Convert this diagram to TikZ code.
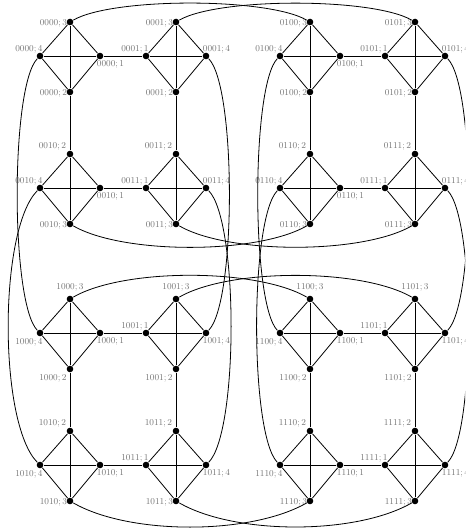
\documentclass[tikz,border=0pt]{standalone}
\usepackage{tikz}
\newcommand{\clique}[7]{%
  \foreach \no/\lpos/\dx/\dy in {#4/0/34, #5/0/-36, #6/-30/0, #7/30/0}{
    \node[dot] (#1-\no) at ({#2+\dx}, {#3+\dy}) {};
    \node[lbl, \lpos] (t#1-\no) at (#1-\no) {$#1;\no$};
  }
  \foreach \a/\b in {1/2, 1/3, 1/4, 2/3, 2/4, 3/4}{
    \draw (#1-\a) -- (#1-\b);
  }
}
\begin{document}
\begin{tikzpicture}[
  x=1pt, y=1pt, line width=0.8pt,
  dot/.style={circle, fill=black, inner sep=0pt, minimum size=6.6pt},
  lbl/.style={font=\small, text=black!55, inner sep=0pt},
  lw/.style={anchor=base east, xshift=-2.5pt, yshift=-3.5pt},
  lnw/.style={anchor=base east, xshift=3pt, yshift=4pt},
  lnt/.style={anchor=base east, xshift=-3.5pt, yshift=5pt},
  lne/.style={anchor=base west, xshift=-3.5pt, yshift=4pt},
  lse/.style={anchor=base west, xshift=-3.5pt, yshift=-11pt},
  lsw/.style={anchor=base east, xshift=3pt, yshift=-12pt},
  lsb/.style={anchor=base east, xshift=-3pt, yshift=-12pt},
  ln/.style={anchor=base, yshift=9pt}
]
  \useasboundingbox (0,0) rectangle (465,529);
  \clip (0,0) rectangle (465,529);

  \clique{0000}{70}{473}{3/lw}{2/lw}{4/lnw}{1/lse}
  \clique{0001}{176}{473}{3/lw}{2/lw}{1/lnw}{4/lne}
  \clique{0100}{310}{473}{3/lw}{2/lw}{4/lnw}{1/lse}
  \clique{0101}{415}{473}{3/lw}{2/lw}{1/lnw}{4/lne}

  \clique{0010}{70}{341}{2/lnt}{3/lw}{4/lnw}{1/lse}
  \clique{0011}{176}{341}{2/lnt}{3/lw}{1/lnw}{4/lne}
  \clique{0110}{310}{341}{2/lnt}{3/lw}{4/lnw}{1/lse}
  \clique{0111}{415}{341}{2/lnt}{3/lw}{1/lnw}{4/lne}

  \clique{1000}{70}{196}{3/ln}{2/lsb}{4/lsw}{1/lse}
  \clique{1001}{176}{196}{3/ln}{2/lsb}{1/lnw}{4/lse}
  \clique{1100}{310}{196}{3/ln}{2/lsb}{4/lsw}{1/lse}
  \clique{1101}{415}{196}{3/ln}{2/lsb}{1/lnw}{4/lse}

  \clique{1010}{70}{64}{2/lnt}{3/lw}{4/lsw}{1/lse}
  \clique{1011}{176}{64}{2/lnt}{3/lw}{1/lnw}{4/lse}
  \clique{1110}{310}{64}{2/lnt}{3/lw}{4/lsw}{1/lse}
  \clique{1111}{415}{64}{2/lnt}{3/lw}{1/lnw}{4/lse}

  \foreach \a/\b in {0000/0001, 0010/0011, 0100/0101, 0110/0111,
                     1000/1001, 1010/1011, 1100/1101, 1110/1111}{
    \draw (\a-1) -- (\b-1);
  }
  \foreach \a/\b in {0000/0010, 0001/0011, 0100/0110, 0101/0111,
                     1000/1010, 1001/1011, 1100/1110, 1101/1111}{
    \draw (\a-2) -- (\b-2);
  }

  \draw (0000-3) to[out=30, in=150, looseness=0.5] (0100-3);
  \draw (0001-3) to[out=30, in=150, looseness=0.5] (0101-3);
  \draw (1000-3) to[out=30, in=150, looseness=0.64] (1100-3);
  \draw (1001-3) to[out=30, in=150, looseness=0.64] (1101-3);
  \draw (0010-3) to[out=-30, in=-150, looseness=0.63] (0110-3);
  \draw (0011-3) to[out=-30, in=-150, looseness=0.63] (0111-3);
  \draw (1010-3) to[out=-30, in=-150, looseness=0.71] (1110-3);
  \draw (1011-3) to[out=-30, in=-150, looseness=0.71] (1111-3);

  \draw (0000-4) to[out=-135, in=135, looseness=0.36] (1000-4);
  \draw (0010-4) to[out=-135, in=135, looseness=0.52] (1010-4);
  \draw (0001-4) to[out=-45, in=45, looseness=0.37] (1001-4);
  \draw (0011-4) to[out=-45, in=45, looseness=0.4] (1011-4);
  \draw (0100-4) to[out=-135, in=135, looseness=0.35] (1100-4);
  \draw (0110-4) to[out=-135, in=135, looseness=0.37] (1110-4);
  \draw (0101-4) to[out=-45, in=45, looseness=0.37] (1101-4);
  \draw (0111-4) to[out=-45, in=45, looseness=0.37] (1111-4);
\end{tikzpicture}
\end{document}
